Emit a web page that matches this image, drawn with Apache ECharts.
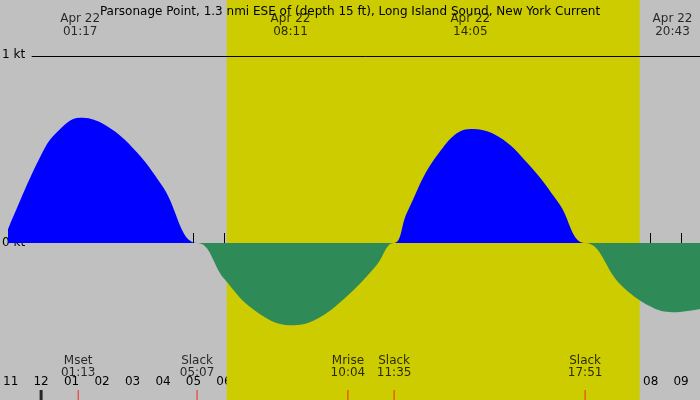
<!DOCTYPE html>
<html>
<head>
<meta charset="utf-8" />
<script src="https://cdn.jsdelivr.net/npm/echarts@6/dist/echarts.min.js"></script>
<style>
  html, body { margin: 0; padding: 0; background: #c0c0c0; }
  #main { width: 700px; height: 400px; }
</style>
</head>
<body>
<div id="main"></div>
<script>
// hours since midnight Apr 22, current in knots (flood +, ebb -)
var hours = [-1.25, -1.07, 0, 0.5, 1.28, 2, 3, 4, 5.12, 6, 7, 8.18, 9, 10, 11, 11.58,
             12, 13, 14.08, 15, 16, 17, 17.85, 19, 20, 20.72, 21.7];
var speed = [0, 0.08, 0.47, 0.59, 0.67, 0.64, 0.51, 0.30, 0, -0.19, -0.36, -0.44, -0.41, -0.29, -0.12, 0,
             0.16, 0.47, 0.61, 0.57, 0.42, 0.21, 0, -0.22, -0.34, -0.37, -0.35];

var peakHours = [1.283, 8.183, 14.083, 20.717];
var peakLabels = ["Apr 22\n01:17", "Apr 22\n08:11", "Apr 22\n14:05", "Apr 22\n20:43"];

var eventHours = [-1.25, 1.217, 5.117, 10.067, 11.583, 17.85];
var eventLabels = ["Slack\n22:45", "Mset\n01:13", "Slack\n05:07", "Mrise\n10:04", "Slack\n11:35", "Slack\n17:51"];

var tickHours = [];
for (var h = -1; h <= 21; h++) tickHours.push(h);

var sunrise = 6.09, sunset = 19.64;

var pos = [], neg = [];
for (var i = 0; i < hours.length; i++) {
  pos.push([hours[i], speed[i] > 0 ? speed[i] : 0]);
  neg.push([hours[i], speed[i] < 0 ? speed[i] : 0]);
}
var font = "DejaVu Sans";

var chart = echarts.init(document.getElementById("main"));
chart.setOption({
  backgroundColor: "#c0c0c0",
  animation: false,
  title: {
    text: "Parsonage Point, 1.3 nmi ESE of (depth 15 ft), Long Island Sound, New York Current",
    left: "center", top: 1,
    textStyle: { fontFamily: font, fontSize: 12, fontWeight: "normal", color: "#000" }
  },
  grid: { left: 0, right: 0, top: 0, bottom: 0 },
  xAxis: {
    type: "value", min: -1.07, max: 21.62,
    splitLine: { show: false },
    axisLine: { show: false },
    axisTick: { show: true, inside: true, length: 10, customValues: tickHours,
                lineStyle: { color: "#000", width: 1 } },
    axisLabel: {
      show: true, inside: true, margin: 12, customValues: tickHours,
      fontFamily: font, fontSize: 12, color: "#000",
      formatter: function (v) {
        var r = ((Math.round(v) % 12) + 12) % 12;
        if (r === 0) r = 12;
        return (r < 10 ? "0" : "") + r;
      }
    }
  },
  yAxis: {
    type: "value", min: -0.8396, max: 1.2995,
    show: false, splitLine: { show: false }
  },
  series: [
    {
      type: "line", data: pos, smooth: 0.4, symbol: "none",
      lineStyle: { width: 0 }, areaStyle: { color: "#0000ff", opacity: 1 },
      markArea: {
        silent: true,
        itemStyle: { color: "#cccc00" },
        data: [[{ xAxis: sunrise }, { xAxis: sunset }]]
      },
      markLine: {
        silent: true, symbol: "none",
        lineStyle: { color: "#000", width: 1, type: "solid" },
        label: { show: false },
        data: [[{ coord: [-0.31, 1] }, { coord: [21.62, 1] }]]
      },
      z: 3
    },
    {
      type: "line", data: neg, smooth: 0.4, symbol: "none",
      lineStyle: { width: 0 }, areaStyle: { color: "#2e8b57", opacity: 1 }, z: 3
    },
    {
      type: "scatter", symbolSize: 0, silent: true,
      data: peakHours.map(function (h, i) { return { value: [h, 1.166], label: { formatter: peakLabels[i] } }; }),
      label: { show: true, position: "inside", fontFamily: font, fontSize: 12, color: "#000", lineHeight: 13 },
      z: 5
    },
    {
      type: "scatter", symbolSize: 0, silent: true,
      data: eventHours.map(function (h, i) { return { value: [h, -0.663], label: { formatter: eventLabels[i] } }; }),
      label: { show: true, position: "inside", fontFamily: font, fontSize: 12, color: "#000", lineHeight: 12 },
      z: 5
    },
    {
      type: "scatter", symbol: "rect", symbolSize: [1, 10], silent: true,
      itemStyle: { color: "#ff0000" },
      data: eventHours.slice(1).map(function (h) { return [h, -0.813]; }),
      z: 5
    },
    {
      type: "scatter", symbol: "rect", symbolSize: [3, 10], silent: true,
      itemStyle: { color: "#000" },
      data: [[0, -0.813]], z: 6
    }
  ],
  graphic: [
    { type: "text", left: 2, top: 49, style: { text: "1 kt", font: "12px DejaVu Sans", fill: "#000" } },
    { type: "text", left: 2, top: 237, z: 1, style: { text: "0 kt", font: "12px DejaVu Sans", fill: "#000" } }
  ]
});
</script>
</body>
</html>
